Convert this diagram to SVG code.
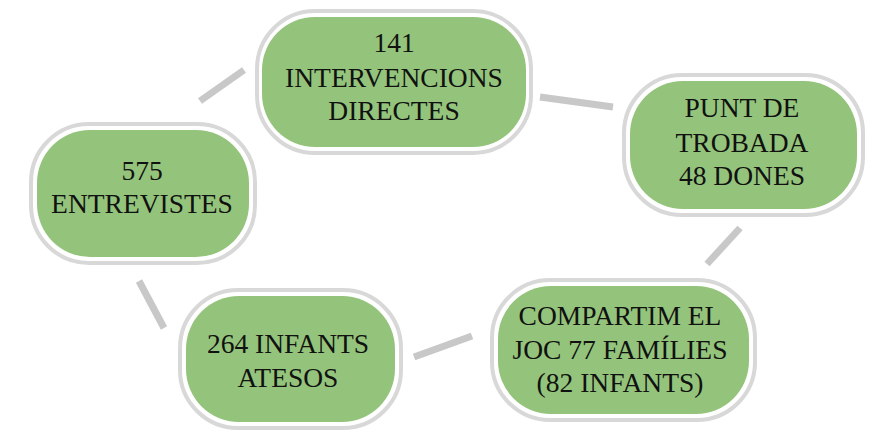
<svg xmlns="http://www.w3.org/2000/svg" width="880" height="432" viewBox="0 0 880 432">
<defs>
<style>
.outer{fill:#ffffff;stroke:#d8d8d8;stroke-width:4}
.inner{fill:#94c47b}
.lbl{font-family:"Liberation Serif","Times New Roman",serif;font-size:27.5px;fill:#111111;text-anchor:middle}
.conn{stroke:#c8c8c8;stroke-width:7;fill:none}
</style>
</defs>
<rect width="880" height="432" fill="#ffffff"/>
<g id="connectors">
<line class="conn" x1="200" y1="101" x2="244" y2="70"/>
<line class="conn" x1="540" y1="97" x2="613" y2="107"/>
<line class="conn" x1="740" y1="228" x2="707" y2="264"/>
<line class="conn" x1="414" y1="357" x2="472" y2="336"/>
<line class="conn" x1="139" y1="281" x2="164" y2="328"/>
</g>
<g id="n1">
<rect class="outer" x="257" y="11" width="274" height="142" rx="58"/>
<rect class="inner" x="262" y="17" width="264" height="130" rx="53"/>
<text class="lbl" x="394" y="52">141</text>
<text class="lbl" x="394" y="87">INTERVENCIONS</text>
<text class="lbl" x="394" y="120">DIRECTES</text>
</g>
<g id="n2">
<rect class="outer" x="624" y="75" width="239" height="140" rx="58"/>
<rect class="inner" x="630" y="81" width="227" height="128" rx="53"/>
<text class="lbl" x="742" y="117">PUNT DE</text>
<text class="lbl" x="742" y="152">TROBADA</text>
<text class="lbl" x="742" y="185">48 DONES</text>
</g>
<g id="n3">
<rect class="outer" x="492" y="280" width="263" height="140" rx="58"/>
<rect class="inner" x="498" y="286" width="251" height="128" rx="53"/>
<text class="lbl" x="620" y="325">COMPARTIM EL</text>
<text class="lbl" x="620" y="359">JOC 77 FAMÍLIES</text>
<text class="lbl" x="620" y="392">(82 INFANTS)</text>
</g>
<g id="n4">
<rect class="outer" x="180" y="290" width="221" height="138" rx="58"/>
<rect class="inner" x="186" y="296" width="209" height="126" rx="53"/>
<text class="lbl" x="288" y="353">264 INFANTS</text>
<text class="lbl" x="288" y="387">ATESOS</text>
</g>
<g id="n5">
<rect class="outer" x="31" y="124" width="224" height="139" rx="58"/>
<rect class="inner" x="37" y="130" width="212" height="127" rx="53"/>
<text class="lbl" x="142" y="180">575</text>
<text class="lbl" x="142" y="213">ENTREVISTES</text>
</g>
</svg>
